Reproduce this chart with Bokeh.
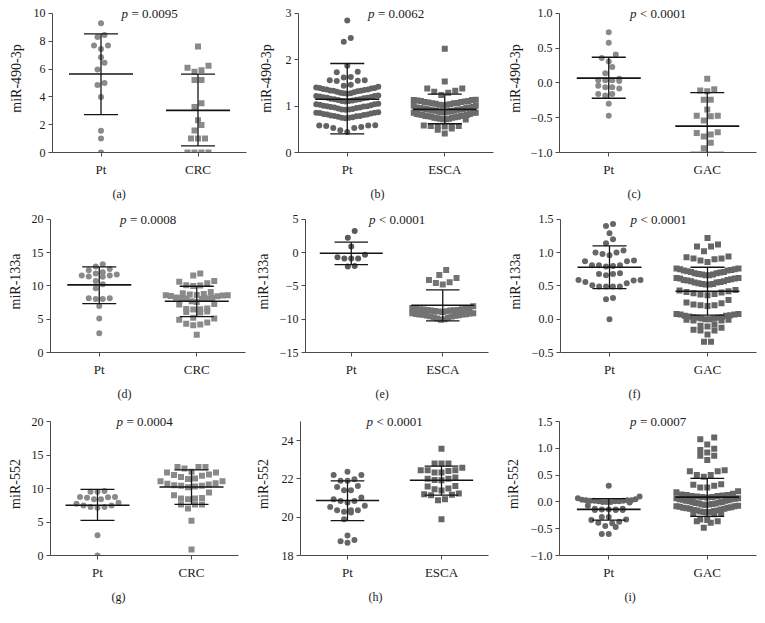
import json
import numpy as np
from bokeh.plotting import figure
from bokeh.layouts import column, row
from bokeh.models import Range1d, FixedTicker, CustomJSTickFormatter, Label, Title, ColumnDataSource
from bokeh.embed import file_html
from bokeh.resources import INLINE

# ---------------- data ----------------
# (a) miR-490-3p, Pt vs CRC
a_groups = ["Pt", "CRC"]
a_pt = [9.3, 8.45, 8.3, 7.7, 7.7, 7.45, 6.85, 6.45, 5.97, 5.0, 4.85, 4.0, 1.57, 1.0, 0.0]
a_crc = [7.63, 6.23, 6.09, 5.92, 5.8, 5.21, 5.21, 3.55, 3.27, 2.32, 1.97, 1.59,
         1.0, 1.0, 1.0, 0.0, 0.0, 0.0, 0.0]
a_mean = [5.64, 3.03]
a_upper = [8.53, 5.64]
a_lower = [2.72, 0.47]
a_p = "= 0.0095"
a_ylabel = "miR-490-3p"
a_yticks = [0, 2, 4, 6, 8, 10]

# (b) miR-490-3p, Pt vs ESCA
b_groups = ["Pt", "ESCA"]
b_pt = [2.85, 2.47, 2.39, 1.87, 1.74, 1.73, 1.63, 1.62, 1.56, 1.56, 1.55, 1.54, 1.46, 1.44, 1.42,
        1.40, 1.39, 1.39, 1.38, 1.37, 1.36, 1.36, 1.35, 1.34, 1.33, 1.33, 1.32, 1.31, 1.30, 1.29, 1.28, 1.28, 1.27,
        1.23, 1.22, 1.22, 1.21, 1.20, 1.19, 1.18, 1.18, 1.17, 1.16, 1.15, 1.15, 1.14, 1.13, 1.12, 1.11, 1.11, 1.10,
        1.05, 1.04, 1.04, 1.03, 1.02, 1.01, 1.00, 1.00, 0.99, 0.98, 0.97, 0.97, 0.96, 0.95, 0.94, 0.93, 0.93, 0.92,
        0.87, 0.86, 0.86, 0.85, 0.84, 0.83, 0.82, 0.82, 0.81, 0.80, 0.79, 0.79, 0.78, 0.77, 0.76, 0.75, 0.75, 0.74,
        0.59, 0.58, 0.58, 0.57, 0.55, 0.53, 0.53, 0.48, 0.44]
b_esca = [2.24, 1.53, 1.38, 1.38, 1.33, 1.31, 1.29, 1.24,
          1.14, 1.13, 1.13, 1.12, 1.11, 1.11, 1.10, 1.09, 1.09, 1.08, 1.07, 1.06, 1.06, 1.05, 1.04, 1.03, 1.03, 1.02, 1.01, 1.01,
          0.98, 0.97, 0.97, 0.96, 0.96, 0.95, 0.94, 0.94, 0.93, 0.92, 0.92, 0.91, 0.90, 0.90, 0.89, 0.88, 0.88, 0.87, 0.87, 0.86, 0.86, 0.86,
          0.83, 0.83, 0.82, 0.81, 0.81, 0.80, 0.79, 0.79, 0.78, 0.77, 0.77, 0.76, 0.75, 0.75, 0.74, 0.73, 0.73, 0.72, 0.72, 0.71,
          0.58, 0.57, 0.57, 0.57, 0.57, 0.56, 0.52, 0.49, 0.41]
b_mean = [1.15, 0.93]
b_upper = [1.92, 1.26]
b_lower = [0.40, 0.62]
b_p = "= 0.0062"
b_ylabel = "miR-490-3p"
b_yticks = [0, 1, 2, 3]

# (c) miR-490-3p, Pt vs GAC
c_groups = ["Pt", "GAC"]
c_pt = [0.73, 0.58, 0.41, 0.36, 0.31, 0.23, 0.14, 0.06, 0.04, 0.04, 0.03, 0.04,
        -0.04, -0.06, -0.06, -0.08, -0.16, -0.18, -0.16, -0.30, -0.47]
c_gac = [0.06, -0.09, -0.11, -0.12, -0.24, -0.24, -0.38, -0.47, -0.47, -0.48, -0.54,
         -0.71, -0.72, -0.74, -0.77, -0.86, -0.94]
c_mean = [0.07, -0.62]
c_upper = [0.37, -0.14]
c_lower = [-0.22, -1.0]
c_p = "< 0.0001"
c_ylabel = "miR-490-3p"
c_yticks = [-1.0, -0.5, 0.0, 0.5, 1.0]

# (d) miR-133a, Pt vs CRC
d_groups = ["Pt", "CRC"]
d_pt = [13.27, 12.93, 12.54, 12.34, 12.05, 11.85, 11.7, 11.56, 11.56, 11.41, 11.37, 10.73,
        10.24, 9.66, 8.15, 8.15, 8.05, 8.05, 6.98, 5.12, 2.88]
d_crc = [11.85, 11.56, 10.73, 10.63, 10.39, 10.1, 10.05, 10.0, 9.1, 8.9, 8.8, 8.7, 8.6, 8.55,
         8.5, 8.45, 8.6, 8.65, 8.2, 8.15, 8.1, 8.05, 8.2, 8.25, 7.7, 7.6, 7.3, 7.2, 6.6, 6.5,
         6.55, 6.45, 6.1, 6.0, 6.15, 5.2, 5.1, 4.9, 4.5, 4.3, 4.1, 4.2, 2.68]
d_mean = [10.15, 7.7]
d_upper = [12.85, 9.95]
d_lower = [7.35, 5.4]
d_p = "= 0.0008"
d_ylabel = "miR-133a"
d_yticks = [0, 5, 10, 15, 20]

# (e) miR-133a, Pt vs ESCA
e_groups = ["Pt", "ESCA"]
e_pt = [3.24, 2.25, 0.93, -0.34, -0.69, -0.88, -0.88, -0.88, -2.0, -2.1]
e_esca = [-2.6, -3.38, -3.8, -4.12, -4.46, -4.56, -4.8, -8.04,
          -8.3, -8.35, -8.4, -8.45, -8.5, -8.5, -8.55, -8.6, -8.6, -8.65, -8.7, -8.7, -8.75, -8.8, -8.85, -8.9,
          -9.1, -9.1, -9.15, -9.2, -9.25, -9.3, -9.3, -9.35, -9.4, -9.45, -9.5, -9.55, -9.6, -9.7, -9.8, -9.9, -10.0, -10.1]
e_mean = [-0.1, -7.9]
e_upper = [1.57, -5.6]
e_lower = [-1.81, -10.25]
e_p = "< 0.0001"
e_ylabel = "miR-133a"
e_yticks = [-15, -10, -5, 0, 5]

# (f) miR-133a, Pt vs GAC
f_groups = ["Pt", "GAC"]
f_pt = [1.43, 1.40, 1.29, 1.2, 1.14, 1.03, 1.0, 1.0, 0.98, 0.96, 0.88, 0.87, 0.87, 0.81, 0.81,
        0.81, 0.8, 0.79, 0.69, 0.68, 0.68, 0.66, 0.59, 0.59, 0.58, 0.56, 0.54, 0.51, 0.49, 0.49,
        0.49, 0.49, 0.32, 0.3, 0.0]
f_gac = [1.22, 1.12, 1.09, 1.09, 1.02,
         0.94, 0.93, 0.91, 0.91, 0.90, 0.88, 0.86,
         0.76, 0.76, 0.75, 0.75, 0.74, 0.73, 0.73, 0.72, 0.71, 0.71, 0.70, 0.69, 0.69, 0.68, 0.67, 0.67, 0.66, 0.66,
         0.62, 0.62, 0.61, 0.61, 0.60, 0.59, 0.59, 0.58, 0.57, 0.57, 0.56, 0.55, 0.55, 0.54, 0.53, 0.53, 0.52, 0.52,
         0.44, 0.43, 0.42, 0.41, 0.40, 0.39, 0.38, 0.37, 0.36,
         0.29, 0.25, 0.24, 0.22, 0.21, 0.21, 0.20,
         0.08, 0.08, 0.07, 0.07, 0.06, 0.05, 0.05, 0.04, 0.03, 0.03, 0.02, 0.02, 0.01, 0.01, 0.00, 0.00,
         -0.01, -0.01, -0.02, -0.02,
         -0.08, -0.10, -0.11, -0.13, -0.16, -0.17, -0.17, -0.23, -0.34, -0.34]
f_mean = [0.78, 0.42]
f_upper = [1.10, 0.78]
f_lower = [0.46, 0.06]
f_p = "< 0.0001"
f_ylabel = "miR-133a"
f_yticks = [-0.5, 0.0, 0.5, 1.0, 1.5]

# (g) miR-552, Pt vs CRC
g_groups = ["Pt", "CRC"]
g_pt = [9.53, 9.63, 9.53, 8.38, 8.68, 8.73, 8.63, 8.73, 8.38, 7.88, 7.73, 7.48, 7.48, 7.23,
        7.23, 7.13, 3.04, 0.0]
g_crc = [13.2, 13.2, 13.2, 13.0, 12.5, 12.4, 12.4, 12.1, 12.0, 11.9, 11.7, 11.5, 11.4, 11.1,
         11.1, 10.8, 10.7, 10.6, 10.5, 10.4, 10.4, 10.2, 10.3, 9.4, 9.0, 8.6, 8.5, 8.5, 8.4,
         7.6, 7.6, 7.6, 7.0, 5.2, 0.9]
g_mean = [7.5, 10.22]
g_upper = [9.88, 12.77]
g_lower = [5.24, 7.63]
g_p = "= 0.0004"
g_ylabel = "miR-552"
g_yticks = [0, 5, 10, 15, 20]

# (h) miR-552, Pt vs ESCA
h_groups = ["Pt", "ESCA"]
h_pt = [22.38, 22.2, 22.2, 21.98, 21.9, 21.9, 21.63, 21.58, 21.41, 21.41, 21.03, 20.94, 20.85,
        20.85, 20.77, 20.6, 20.54, 20.37, 20.37, 20.37, 20.28, 20.25, 19.9, 19.04, 18.81, 18.74, 18.66]
h_esca = [23.57, 22.81, 22.81, 22.81, 22.58, 22.45, 22.45, 22.45, 22.41, 22.33, 22.33, 22.07,
          22.01, 22.01, 21.95, 21.93, 21.63, 21.60, 21.50, 21.46, 21.40, 21.24, 21.20, 21.18,
          21.15, 20.94, 20.89, 19.90]
h_mean = [20.87, 21.93]
h_upper = [21.90, 22.67]
h_lower = [19.82, 21.15]
h_p = "< 0.0001"
h_ylabel = "miR-552"
h_yticks = [18, 20, 22, 24]

# (i) miR-552, Pt vs GAC
i_groups = ["Pt", "GAC"]
i_pt = [0.30, 0.10, 0.07, 0.05, 0.04, 0.03, 0.03, 0.02, 0.02, 0.01, 0.01, 0.00, 0.00, -0.01,
        0.00, 0.01, 0.02, 0.03, -0.07, -0.13, -0.13, -0.14, -0.14, -0.14, -0.15, -0.15, -0.15,
        -0.28, -0.28, -0.33, -0.34, -0.37, -0.39, -0.40, -0.45, -0.47, -0.60, -0.60]
i_gac = [1.20, 1.17, 1.07, 0.99, 0.97, 0.92, 0.86, 0.86, 0.78,
         0.59, 0.57, 0.57, 0.50, 0.50, 0.47, 0.33, 0.32, 0.30, 0.27, 0.27, 0.20, 0.18,
         0.15, 0.14, 0.13, 0.13, 0.12, 0.11, 0.11, 0.10, 0.09, 0.09, 0.08, 0.07, 0.07, 0.06, 0.05,
         0.05, 0.04, 0.03, 0.02, 0.02, 0.01, 0.00, 0.00, -0.01, -0.02, -0.03, -0.03, -0.04, -0.05,
         -0.05, -0.06, -0.07, -0.08, -0.08, -0.09, -0.10, -0.11, -0.11, -0.12, -0.13, -0.13, -0.14,
         -0.15, -0.16, -0.16, -0.17, -0.18, -0.19, -0.19, -0.20, -0.21, -0.22, -0.23,
         -0.33, -0.34, -0.36, -0.36, -0.39, -0.48]
i_mean = [-0.14, 0.09]
i_upper = [0.06, 0.44]
i_lower = [-0.34, -0.27]
i_p = "= 0.0007"
i_ylabel = "miR-552"
i_yticks = [-1.0, -0.5, 0.0, 0.5, 1.0, 1.5]

# ---------------- layout / style ----------------
FONT = "Liberation Serif"
AX = "#4a4a4a"
TXT = "#1a1a1a"
BAR = "#141414"
CENTERS = [0.5, 1.5]
COLS = [(0, 252), (252, 502), (502, 765)]
ROWS = [(0, 205), (205, 405), (405, 623)]
MS = 6.0
TOPPAD = 9  # px of empty frame above the top tick, room for the p-value text

panels = [
    dict(g=a_groups, v=[a_pt, a_crc], m=a_mean, up=a_upper, lo=a_lower, p=a_p, yl=a_ylabel, yt=a_yticks,
         yr=(0, 10), dec=0, tag="(a)", frame=(52, 246, 13, 153), col=0, row=0,
         colors=("#8a8a8a", "#8a8a8a"), als=7, toff=60),
    dict(g=b_groups, v=[b_pt, b_esca], m=b_mean, up=b_upper, lo=b_lower, p=b_p, yl=b_ylabel, yt=b_yticks,
         yr=(0, 3), dec=0, tag="(b)", frame=(298, 493, 13, 153), col=1, row=0,
         colors=("#636363", "#6b6b6b"), als=9, toff=72),
    dict(g=c_groups, v=[c_pt, c_gac], m=c_mean, up=c_upper, lo=c_lower, p=c_p, yl=c_ylabel, yt=c_yticks,
         yr=(-1.0, 1.0), dec=1, tag="(c)", frame=(559, 756, 13, 153), col=2, row=0,
         colors=("#8a8a8a", "#888888"), als=5, toff=68),
    dict(g=d_groups, v=[d_pt, d_crc], m=d_mean, up=d_upper, lo=d_lower, p=d_p, yl=d_ylabel, yt=d_yticks,
         yr=(0, 20), dec=0, tag="(d)", frame=(50, 245, 219, 355), col=0, row=1,
         colors=("#8a8a8a", "#8a8a8a"), als=6, toff=67),
    dict(g=e_groups, v=[e_pt, e_esca], m=e_mean, up=e_upper, lo=e_lower, p=e_p, yl=e_ylabel, yt=e_yticks,
         yr=(-15, 5), dec=0, tag="(e)", frame=(302, 488, 219, 355), col=1, row=1,
         colors=("#5a5a5a", "#737373"), als=6, toff=70),
    dict(g=f_groups, v=[f_pt, f_gac], m=f_mean, up=f_upper, lo=f_lower, p=f_p, yl=f_ylabel, yt=f_yticks,
         yr=(-0.5, 1.5), dec=1, tag="(f)", frame=(560, 756, 219, 355), col=2, row=1,
         colors=("#666666", "#666666"), als=6, toff=68),
    dict(g=g_groups, v=[g_pt, g_crc], m=g_mean, up=g_upper, lo=g_lower, p=g_p, yl=g_ylabel, yt=g_yticks,
         yr=(0, 20), dec=0, tag="(g)", frame=(50, 238, 421, 555), col=0, row=2,
         colors=("#8a8a8a", "#8a8a8a"), als=6, toff=61),
    dict(g=h_groups, v=[h_pt, h_esca], m=h_mean, up=h_upper, lo=h_lower, p=h_p, yl=h_ylabel, yt=h_yticks,
         yr=(18, 25), dec=0, tag="(h)", frame=(298, 488, 421, 555), col=1, row=2,
         colors=("#666666", "#666666"), als=8, toff=68),
    dict(g=i_groups, v=[i_pt, i_gac], m=i_mean, up=i_upper, lo=i_lower, p=i_p, yl=i_ylabel, yt=i_yticks,
         yr=(-1.0, 1.5), dec=1, tag="(i)", frame=(558, 756, 421, 555), col=2, row=2,
         colors=("#666666", "#666666"), als=7, toff=65),
]


def swarm_px(vals, ppu, binh=7.0, sp=7.0, maxhalf=31.0):
    """GraphPad-like scatter-dot layout: horizontal offsets in pixels."""
    vals = np.asarray(vals, float)
    order = np.argsort(vals, kind="stable")
    bins, cur, start = [], [], None
    for idx in order:
        v = vals[idx]
        if start is None or (v - start) * ppu >= binh:
            if cur:
                bins.append(cur)
            cur, start = [idx], v
        else:
            cur.append(idx)
    if cur:
        bins.append(cur)
    xs = np.zeros(len(vals))
    for b in bins:
        n = len(b)
        if n == 1:
            continue
        s = min(sp, 2 * maxhalf / (n - 1))
        slots = sorted([(k - (n - 1) / 2) * s for k in range(n)], key=lambda o: (abs(o), o))
        for idx, o in zip(b, slots):
            xs[idx] = o
    return xs


def make_panel(s):
    fl, fr = COLS[s["col"]]
    rt, rb = ROWS[s["row"]]
    x0, x1, y0, y1 = s["frame"]
    ymin, ymax = s["yr"]
    ppu = (y1 - y0) / (ymax - ymin)
    half = (x1 - x0) / 2.0
    p = figure(width=fr - fl, height=rb - rt, x_range=Range1d(0, 2),
               y_range=Range1d(ymin, ymax + TOPPAD / ppu), output_backend="svg",
               toolbar_location=None, title=None,
               min_border_left=x0 - fl, min_border_right=fr - x1,
               min_border_top=y0 - TOPPAD - rt, min_border_bottom=rb - y1)
    p.outline_line_color = None
    p.xgrid.visible = False
    p.ygrid.visible = False
    p.background_fill_color = "white"
    p.border_fill_color = "white"

    for k, (vals, marker, col) in enumerate(zip(s["v"], ["circle", "square"], s["colors"])):
        vals = np.asarray(vals, float)
        off = swarm_px(vals, ppu) / half
        src = ColumnDataSource(dict(x=CENTERS[k] + off, y=vals))
        p.scatter("x", "y", source=src, marker=marker, size=MS, fill_color=col, line_color=None)

    cx = np.array(CENTERS)
    m = np.array(s["m"], float)
    up = np.array(s["up"], float)
    lo = np.array(s["lo"], float)
    mw = 32.0 / half
    cw = 17.0 / half
    p.segment(x0=cx, y0=lo, x1=cx, y1=up, line_color=BAR, line_width=1.3)
    p.segment(x0=cx - mw, y0=m, x1=cx + mw, y1=m, line_color=BAR, line_width=1.6)
    p.segment(x0=cx - cw, y0=up, x1=cx + cw, y1=up, line_color=BAR, line_width=1.3)
    p.segment(x0=cx - cw, y0=lo, x1=cx + cw, y1=lo, line_color=BAR, line_width=1.3)

    xa = p.xaxis[0]
    ya = p.yaxis[0]
    xa.ticker = FixedTicker(ticks=CENTERS)
    xa.formatter = CustomJSTickFormatter(
        code="return tick < 1 ? %s : %s;" % (json.dumps(s["g"][0]), json.dumps(s["g"][1])))
    ya.ticker = FixedTicker(ticks=s["yt"])
    ya.formatter = CustomJSTickFormatter(
        code="var t = Math.abs(tick).toFixed(%d); return (tick < -1e-9 ? '\\u2212' : '') + t;" % s["dec"])
    ya.bounds = (ymin, ymax)
    for ax in (xa, ya):
        ax.axis_line_color = AX
        ax.axis_line_width = 1
        ax.major_tick_line_color = AX
        ax.major_tick_out = 4
        ax.major_tick_in = 0
        ax.minor_tick_line_color = None
        ax.major_label_text_font = FONT
        ax.major_label_text_color = TXT
    ya.major_label_text_font_size = "12px"
    ya.major_label_standoff = 3
    xa.major_label_text_font_size = "13px"
    xa.major_label_standoff = 5
    ya.axis_label = s["yl"]
    ya.axis_label_text_font = FONT
    ya.axis_label_text_font_size = "14px"
    ya.axis_label_text_font_style = "normal"
    ya.axis_label_text_color = TXT
    ya.axis_label_standoff = s["als"]

    p.add_layout(Title(text=s["tag"], align="left", offset=s["toff"], text_font=FONT,
                       text_font_size="12px", text_font_style="normal", text_color=TXT,
                       standoff=10), "below")

    p.add_layout(Label(x=1.0, y=ymax, text="p", text_font=FONT, text_font_size="13px",
                       text_font_style="italic", text_align="left", text_baseline="middle",
                       x_offset=-28, text_color=TXT))
    p.add_layout(Label(x=1.0, y=ymax, text=s["p"], text_font=FONT, text_font_size="13px",
                       text_font_style="normal", text_align="left", text_baseline="middle",
                       x_offset=-18, text_color=TXT))
    return p


figs = [make_panel(s) for s in panels]
layout = column(row(*figs[0:3]), row(*figs[3:6]), row(*figs[6:9]))
open("out.html", "w").write(file_html(layout, INLINE))
